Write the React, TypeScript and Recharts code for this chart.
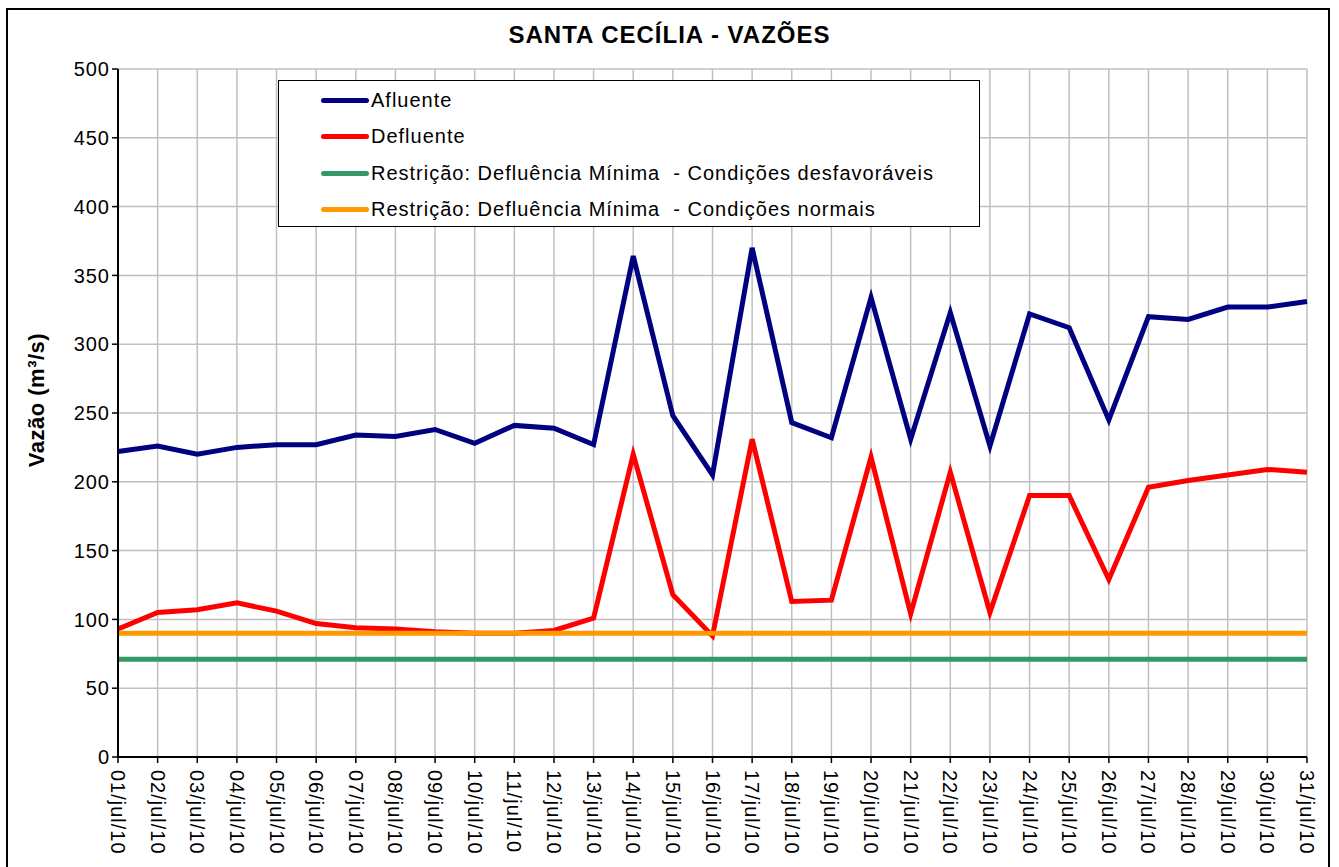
import React from 'react';
import { LineChart, Line, XAxis, YAxis, CartesianGrid } from 'recharts';

const dias = [
  '01/jul/10', '02/jul/10', '03/jul/10', '04/jul/10', '05/jul/10', '06/jul/10', '07/jul/10', '08/jul/10',
  '09/jul/10', '10/jul/10', '11/jul/10', '12/jul/10', '13/jul/10', '14/jul/10', '15/jul/10', '16/jul/10',
  '17/jul/10', '18/jul/10', '19/jul/10', '20/jul/10', '21/jul/10', '22/jul/10', '23/jul/10', '24/jul/10',
  '25/jul/10', '26/jul/10', '27/jul/10', '28/jul/10', '29/jul/10', '30/jul/10', '31/jul/10',
];

const afluente = [
  222, 226, 220, 225, 227, 227, 234, 233, 238, 228, 241, 239, 227, 364, 248, 205,
  370, 243, 232, 334, 231, 323, 226, 322, 312, 245, 320, 318, 327, 327, 331,
];

const defluente = [
  93, 105, 107, 112, 106, 97, 94, 93, 91, 90, 90, 92, 101, 220, 118, 88,
  231, 113, 114, 218, 104, 207, 105, 190, 190, 129, 196, 201, 205, 209, 207,
];

const minDesfavoravel = [
  71, 71, 71, 71, 71, 71, 71, 71, 71, 71, 71, 71, 71, 71, 71, 71,
  71, 71, 71, 71, 71, 71, 71, 71, 71, 71, 71, 71, 71, 71, 71,
];

const minNormal = [
  90, 90, 90, 90, 90, 90, 90, 90, 90, 90, 90, 90, 90, 90, 90, 90,
  90, 90, 90, 90, 90, 90, 90, 90, 90, 90, 90, 90, 90, 90, 90,
];

const yTicks = [0, 50, 100, 150, 200, 250, 300, 350, 400, 450, 500];

const series = [
  { key: 'afluente', name: 'Afluente', color: '#000080' },
  { key: 'defluente', name: 'Defluente', color: '#ff0000' },
  { key: 'desfav', name: 'Restrição: Defluência Mínima  - Condições desfavoráveis', color: '#339966' },
  { key: 'normal', name: 'Restrição: Defluência Mínima  - Condições normais', color: '#ff9900' },
];

const data = dias.map((d, i) => ({
  dia: d,
  afluente: afluente[i],
  defluente: defluente[i],
  desfav: minDesfavoravel[i],
  normal: minNormal[i],
}));

const FONT = '"Liberation Sans", Arial, sans-serif';

const XTick = (props: any) => {
  const { x, y, payload } = props;
  return (
    <text
      x={x}
      y={y + 5}
      transform={`rotate(90, ${x}, ${y + 5})`}
      textAnchor="start"
      dominantBaseline="central"
      fontSize={20}
      letterSpacing={1}
      fontFamily={FONT}
      fill="#000"
    >
      {payload.value}
    </text>
  );
};

const LegendBox = () => (
  <div
    style={{
      position: 'absolute',
      left: 278,
      top: 80,
      border: '1.5px solid #000',
      background: '#fff',
      width: 702,
      height: 147,
      boxSizing: 'border-box',
      paddingTop: 1,
      fontFamily: FONT,
      fontSize: 20,
      letterSpacing: 1,
    }}
  >
    {series.map((s) => (
      <div key={s.key} style={{ display: 'flex', alignItems: 'center', height: 36.5 }}>
        <div style={{ marginLeft: 42, width: 48, height: 5, borderRadius: 3, background: s.color }} />
        <span style={{ marginLeft: 2, whiteSpace: 'pre' }}>{s.name}</span>
      </div>
    ))}
  </div>
);

export default function App() {
  return (
    <div style={{ position: 'absolute', left: 0, top: 0, width: 1339, height: 867, overflow: 'hidden', background: '#fff' }}>
      <div
        style={{
          position: 'absolute',
          left: 6,
          top: 8,
          width: 1324,
          height: 900,
          border: '2px solid #000',
          boxSizing: 'border-box',
        }}
      />
      <div
        style={{
          position: 'absolute',
          left: 0,
          width: 1339,
          top: 21,
          textAlign: 'center',
          fontFamily: FONT,
          fontWeight: 'bold',
          fontSize: 24,
          letterSpacing: 1,
        }}
      >
        SANTA CECÍLIA - VAZÕES
      </div>
      <div
        style={{
          position: 'absolute',
          left: 37,
          top: 400,
          transform: 'translate(-50%, -50%) rotate(-90deg)',
          fontFamily: FONT,
          fontWeight: 'bold',
          fontSize: 22,
          letterSpacing: 0.5,
          whiteSpace: 'nowrap',
        }}
      >
        Vazão (m³/s)
      </div>
      <div style={{ position: 'absolute', left: 0, top: 0 }}>
        <LineChart width={1339} height={867} data={data} margin={{ top: 69, right: 32, bottom: 0, left: 58 }}>
          <CartesianGrid stroke="#c0c0c0" strokeWidth={1.5} />
          <XAxis
            dataKey="dia"
            interval={0}
            height={110}
            tick={<XTick />}
            tickLine={{ stroke: '#000', strokeWidth: 1.5 }}
            tickSize={6}
            axisLine={{ stroke: '#000', strokeWidth: 2 }}
          />
          <YAxis
            width={60}
            domain={[0, 500]}
            ticks={yTicks}
            interval={0}
            tick={{ fontSize: 20, fontFamily: FONT, fill: '#000', letterSpacing: 1 }}
            tickLine={{ stroke: '#000', strokeWidth: 1.5 }}
            tickSize={6}
            axisLine={{ stroke: '#000', strokeWidth: 2 }}
          />
          {series.map((s) => (
            <Line
              key={s.key}
              type="linear"
              dataKey={s.key}
              name={s.name}
              stroke={s.color}
              strokeWidth={5}
              dot={false}
              activeDot={false}
              isAnimationActive={false}
            />
          ))}
        </LineChart>
      </div>
      <LegendBox />
    </div>
  );
}
